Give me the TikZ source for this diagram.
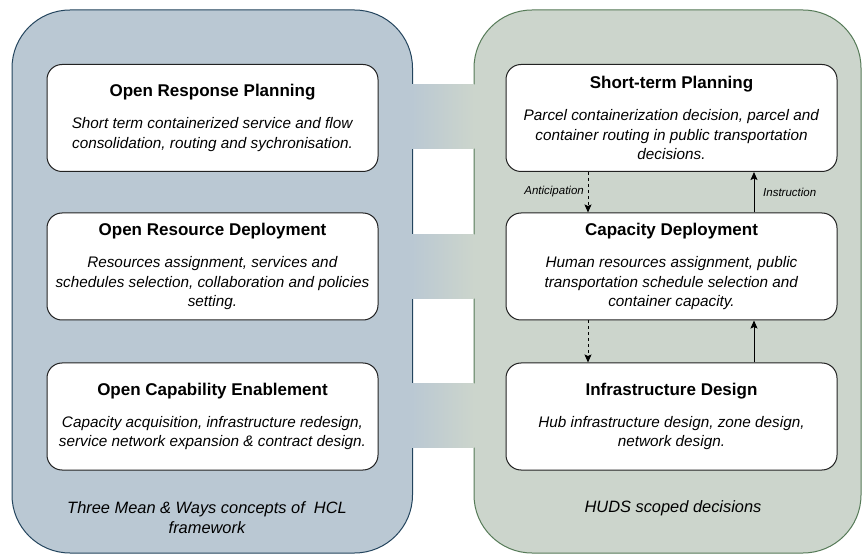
\documentclass[tikz,border=0pt]{standalone}
\usepackage{fontspec}
\setmainfont{Liberation Sans}
\usetikzlibrary{arrows.meta,calc}
\definecolor{leftfill}{HTML}{BAC8D3}
\definecolor{leftdraw}{HTML}{23445D}
\definecolor{rightfill}{HTML}{CCD5CC}
\definecolor{rightdraw}{HTML}{557A57}
\definecolor{boxdraw}{HTML}{222222}
\newcommand\cardtitle[1]{{\bfseries\fontsize{17}{19.5}\selectfont #1}}
\begin{document}
\begin{tikzpicture}[x=1pt,y=-1pt,
  outerL/.style={fill=leftfill,draw=leftdraw,line width=1pt,rounded corners=58pt},
  outerR/.style={fill=rightfill,draw=rightdraw,line width=1pt,rounded corners=58pt},
  band/.style={left color=leftfill,right color=rightfill},
  card/.style={draw=boxdraw,fill=white,line width=1pt,rounded corners=15pt,
    minimum width=331pt,minimum height=107pt,align=center,inner sep=0pt,
    font=\fontsize{15.3}{19.5}\selectfont},
  arrowsolid/.style={line width=1pt,-{Stealth[length=8pt,width=7pt,inset=1.5pt]}},
  arrowdash/.style={line width=1pt,dash pattern=on 3pt off 3pt,-{Stealth[length=8pt,width=7pt,inset=1.5pt]}},
  lab/.style={font=\itshape\fontsize{11.5}{13}\selectfont,inner sep=0pt},
  caption/.style={font=\itshape\fontsize{16.4}{19.5}\selectfont,align=center,inner sep=0pt}
]
\useasboundingbox (0,0) rectangle (863,556);
\draw[outerL] (12,10) rectangle (412.5,553);
\draw[outerR] (474,10) rectangle (861,553);
\shade[band] (411.5,85) rectangle (474.5,149);
\shade[band] (411.5,235) rectangle (474.5,299);
\shade[band] (411.5,383) rectangle (474.5,447);

\node[card] (orp) at (212.5,118) {\cardtitle{Open Response Planning}\\[12.5pt]\textit{Short term containerized service and flow}\\\textit{consolidation, routing and sychronisation.}};
\node[card] (ord) at (212.5,266.5) {\cardtitle{Open Resource Deployment}\\[12.5pt]\textit{Resources assignment, services and}\\\textit{schedules selection, collaboration and policies}\\\textit{setting.}};
\node[card] (oce) at (212.5,416.5) {\cardtitle{Open Capability Enablement}\\[12.5pt]\textit{Capacity acquisition, infrastructure redesign,}\\\textit{service network expansion \& contract design.}};

\node[card] (stp) at (671.5,118) {\cardtitle{Short-term Planning}\\[12.5pt]\textit{Parcel containerization decision, parcel and}\\\textit{container routing in public transportation}\\\textit{decisions.}};
\node[card] (cdp) at (671.5,266.5) {\cardtitle{Capacity Deployment}\\[12.5pt]\textit{Human resources assignment, public}\\\textit{transportation schedule selection and}\\\textit{container capacity.}};
\node[card] (ind) at (671.5,416.5) {\cardtitle{Infrastructure Design}\\[12.5pt]\textit{Hub infrastructure design, zone design,}\\\textit{network design.}};

\coordinate (ax) at (588,0);
\coordinate (ix) at (754,0);
\draw[arrowdash] (stp.south -| ax) -- (cdp.north -| ax);
\draw[arrowsolid] (cdp.north -| ix) -- (stp.south -| ix);
\draw[arrowdash] (cdp.south -| ax) -- (ind.north -| ax);
\draw[arrowsolid] (ind.north -| ix) -- (cdp.south -| ix);

\node[lab,anchor=east] (antl) at (584,192) {Anticipation};
\node[lab,anchor=west] (insl) at (763,192) {Instruction};

\node[caption] (hcl) at (207,517.5) {Three Mean \& Ways concepts of \ HCL\\framework};
\node[caption] (huds) at (673,508) {HUDS scoped decisions};
\end{tikzpicture}
\end{document}
